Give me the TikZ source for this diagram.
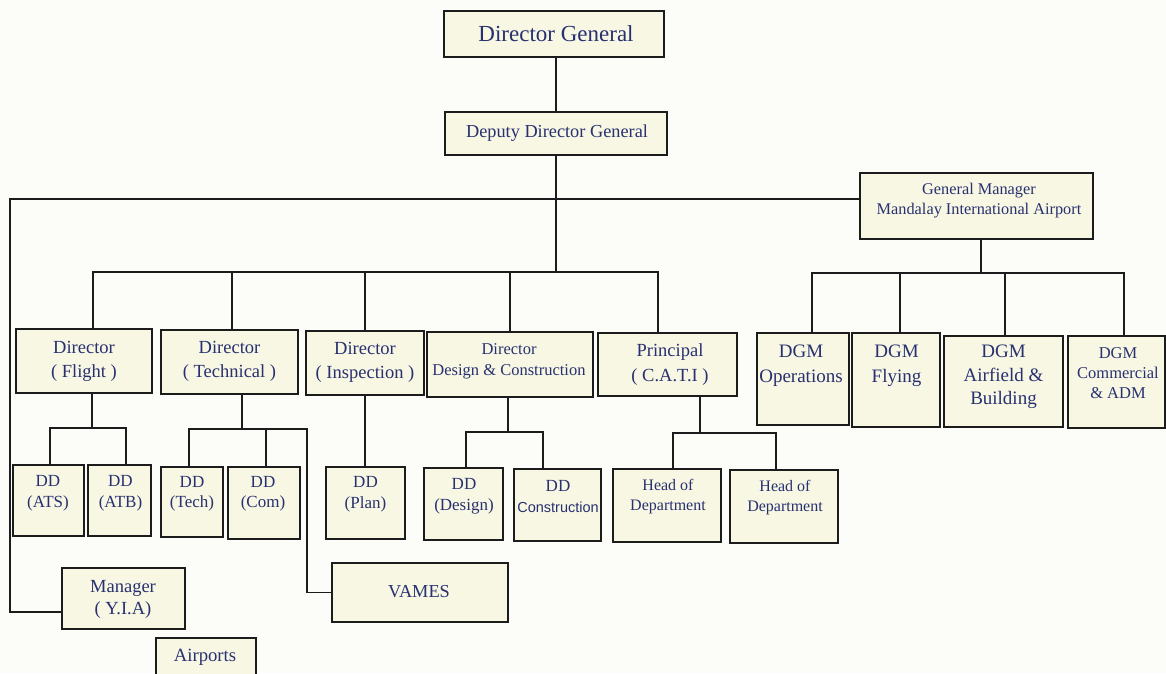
\documentclass[tikz,border=0pt]{standalone}
\usepackage{fontspec}
\setmainfont{Liberation Serif}
\newfontfamily\sansface{Liberation Sans}
\definecolor{ink}{HTML}{1C1C1C}
\definecolor{boxfill}{HTML}{F7F7E3}
\definecolor{navy}{HTML}{283070}
\definecolor{paper}{HTML}{FCFCF9}
\newcommand\fsz[2]{\fontsize{#1}{#2}\selectfont}
\begin{document}
\begin{tikzpicture}[x=1pt,y=-1pt,
  box/.style={draw=ink, fill=boxfill, line width=1.6pt, inner sep=0pt},
  lbl/.style={text=navy, inner sep=0pt, align=center},
  link/.style={draw=ink, line width=1.6pt}]
\clip (0,0) rectangle (1166,673);
\fill[paper] (0,0) rectangle (1166,673);

% ---- boxes ----
\node[box, minimum width=220pt, minimum height=46pt] (dg) at (554,34) {};
\node[box, minimum width=222pt, minimum height=43pt] (ddg) at (556,133.5) {};
\node[box, minimum width=233pt, minimum height=66pt] (gm) at (976.5,206) {};

\node[box, minimum width=136pt, minimum height=64pt] (flight) at (84,361) {};
\node[box, minimum width=137pt, minimum height=64pt] (tech) at (229.5,362) {};
\node[box, minimum width=118pt, minimum height=64pt] (insp) at (365,363) {};
\node[box, minimum width=166pt, minimum height=65pt] (design) at (510,364.5) {};
\node[box, minimum width=139pt, minimum height=63pt] (principal) at (667.5,364.5) {};

\node[box, minimum width=92pt, minimum height=92pt] (ops) at (803,379) {};
\node[box, minimum width=88pt, minimum height=94pt] (flying) at (896,380) {};
\node[box, minimum width=119pt, minimum height=91pt] (airfield) at (1003.5,381.5) {};
\node[box, minimum width=97pt, minimum height=92pt] (comm) at (1116.5,382) {};

\node[box, minimum width=71pt, minimum height=71pt] (ats) at (48.5,500.5) {};
\node[box, minimum width=63pt, minimum height=71pt] (atb) at (119.5,500.5) {};
\node[box, minimum width=62pt, minimum height=70pt] (ddtech) at (192,502) {};
\node[box, minimum width=72pt, minimum height=72pt] (ddcom) at (264,503) {};
\node[box, minimum width=79pt, minimum height=72pt] (plan) at (365.5,503) {};
\node[box, minimum width=79pt, minimum height=72pt] (ddesign) at (463.5,504) {};
\node[box, minimum width=87pt, minimum height=72pt] (constr) at (557.5,505) {};
\node[box, minimum width=108pt, minimum height=73pt] (hod1) at (667,505.5) {};
\node[box, minimum width=108pt, minimum height=73pt] (hod2) at (784,506.5) {};

\node[box, minimum width=176pt, minimum height=59pt] (vames) at (420,592.5) {};
\node[box, minimum width=123pt, minimum height=61pt] (manager) at (123.5,598.5) {};
\node[box, minimum width=100pt, minimum height=52pt] (airports) at (206,664) {};

% ---- bus points ----
\coordinate (dBus) at (556,272);
\coordinate (yTop) at (10,199);
\coordinate (yBot) at (10,612);
\coordinate (gBus) at (981,273);
\coordinate (fBus) at (92,428);
\coordinate (tBus) at (242,429);
\coordinate (tEnd) at (307,429);
\coordinate (sBus) at (508,432);
\coordinate (pBus) at (700,433);

% ---- connectors ----
\draw[link] (ddg.north) -- (ddg.north |- dg.south);
\draw[link] (ddg.south) -- (dBus);
\draw[link] ([xshift=9pt]flight.north) |- ([xshift=-9.5pt]principal.north |- dBus)
            -- ([xshift=-9.5pt]principal.north);
\draw[link] ([xshift=2.5pt]tech.north) -- ([xshift=2.5pt]tech.north |- dBus);
\draw[link] (insp.north) -- (insp.north |- dBus);
\draw[link] (design.north) -- (design.north |- dBus);

\draw[link] (gm.west |- yTop) -- (yTop) -- (yBot) -- (manager.west |- yBot);

\draw[link] (gm.south -| gBus) -- (gBus);
\draw[link] ([xshift=9pt]ops.north) |- ([xshift=7.5pt]comm.north |- gBus)
            -- ([xshift=7.5pt]comm.north);
\draw[link] ([xshift=4pt]flying.north) -- ([xshift=4pt]flying.north |- gBus);
\draw[link] ([xshift=1.5pt]airfield.north) -- ([xshift=1.5pt]airfield.north |- gBus);

\draw[link] (flight.south -| fBus) -- (fBus);
\draw[link] ([xshift=1.5pt]ats.north) |- ([xshift=6.5pt]atb.north |- fBus)
            -- ([xshift=6.5pt]atb.north);

\draw[link] (tech.south -| tBus) -- (tBus);
\draw[link] ([xshift=-3pt]ddtech.north) |- (tEnd) |- (vames.west);
\draw[link] ([xshift=2pt]ddcom.north) -- ([xshift=2pt]ddcom.north |- tBus);

\draw[link] (insp.south) -- (insp.south |- plan.north);

\draw[link] (design.south -| sBus) -- (sBus);
\draw[link] ([xshift=2.5pt]ddesign.north) |- ([xshift=-14.5pt]constr.north |- sBus)
            -- ([xshift=-14.5pt]constr.north);

\draw[link] (principal.south -| pBus) -- (pBus);
\draw[link] ([xshift=6pt]hod1.north) |- ([xshift=-8pt]hod2.north |- pBus)
            -- ([xshift=-8pt]hod2.north);

% ---- labels ----
\node[lbl, font=\fsz{23}{28}] (dgT) at (556,34) {Director General};
\node[lbl, font=\fsz{18.3}{22}] (ddgT) at (557,133) {Deputy Director General};
\node[lbl, font=\fsz{16.3}{20}] (gmT) at (979,201) {General Manager\\Mandalay International Airport};

\node[lbl, font=\fsz{18.5}{24}] (flightT) at (84,361) {Director\\( Flight )};
\node[lbl, font=\fsz{18.5}{24}] (techT) at (229.5,361) {Director\\( Technical )};
\node[lbl, font=\fsz{18.5}{24}] (inspT) at (365,362) {Director\\( Inspection )};
\node[lbl, font=\fsz{16.5}{21}] (designT) at (509,361.5) {Director\\Design \& Construction};
\node[lbl, font=\fsz{18.5}{25}] (principalT) at (670,364.5) {Principal\\( C.A.T.I )};

\node[lbl, font=\fsz{19}{25}] (opsT) at (801,365.5) {DGM\\Operations};
\node[lbl, font=\fsz{19}{25}] (flyingT) at (896.5,365.5) {DGM\\Flying};
\node[lbl, font=\fsz{19}{23.5}] (airfieldT) at (1003.5,377) {DGM\\Airfield \&\\Building};
\node[lbl, font=\fsz{16.5}{20}] (commT) at (1118,373) {DGM\\Commercial\\\& ADM};

\node[lbl, font=\fsz{17}{20.5}] (atsT) at (48,493) {DD\\(ATS)};
\node[lbl, font=\fsz{17}{20.5}] (atbT) at (120.5,493) {DD\\(ATB)};
\node[lbl, font=\fsz{17}{20.5}] (ddtechT) at (192,493.5) {DD\\(Tech)};
\node[lbl, font=\fsz{17}{20.5}] (ddcomT) at (263,493.5) {DD\\(Com)};
\node[lbl, font=\fsz{17}{20.5}] (planT) at (365.5,494) {DD\\(Plan)};
\node[lbl, font=\fsz{17}{20.5}] (ddesignT) at (464,496.5) {DD\\(Design)};
\node[lbl, font=\fsz{17}{20.5}] (constrT) at (558,496.5) {DD\\{\sansface\fsz{14.5}{20.5}Construction}};
\node[lbl, font=\fsz{16}{20}] (hod1T) at (668,497) {Head of\\Department};
\node[lbl, font=\fsz{16}{20}] (hod2T) at (785,497.5) {Head of\\Department};

\node[lbl, font=\fsz{18.3}{22}] (vamesT) at (419,592) {VAMES};
\node[lbl, font=\fsz{18.5}{22}] (managerT) at (123,599) {Manager\\( Y.I.A)};
\node[lbl, font=\fsz{18.7}{22}] (airportsT) at (205,657) {Airports};
\end{tikzpicture}
\end{document}
